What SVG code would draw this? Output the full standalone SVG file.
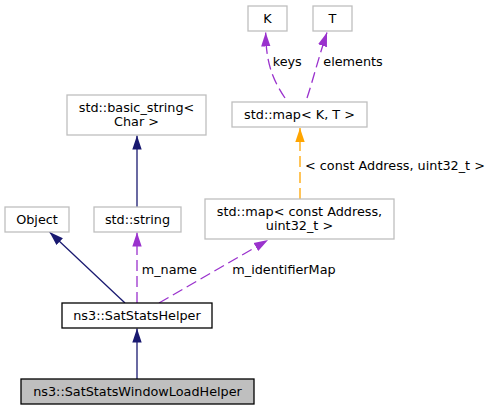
<svg xmlns="http://www.w3.org/2000/svg" width="492" height="411" viewBox="0 0 492 411">
<style>
text{font-family:"DejaVu Sans","Liberation Sans",sans-serif;font-size:12.8px;fill:#000}
.c{text-anchor:middle}
.box{fill:#fff;stroke:#bfbfbf;stroke-width:1.3}
.blk{fill:#fff;stroke:#000;stroke-width:1.3}
.cur{fill:#bfbfbf;stroke:#000;stroke-width:1.3}
.nv{stroke:#191970;stroke-width:1.3;fill:none;marker-end:url(#an)}
.pu{stroke:#9a32cd;stroke-width:1.3;fill:none;stroke-dasharray:11,5;marker-end:url(#ap)}
.or{stroke:#ffa500;stroke-width:1.3;fill:none;stroke-dasharray:11,5;marker-end:url(#ao)}
</style>
<defs>
<marker id="an" markerUnits="userSpaceOnUse" markerWidth="15" markerHeight="11" refX="14" refY="5.5" orient="auto"><path d="M0,0.8 L14,5.5 L0,10.2 z" fill="#191970"/></marker>
<marker id="ap" markerUnits="userSpaceOnUse" markerWidth="15" markerHeight="11" refX="14" refY="5.5" orient="auto"><path d="M0,0.8 L14,5.5 L0,10.2 z" fill="#9a32cd"/></marker>
<marker id="ao" markerUnits="userSpaceOnUse" markerWidth="15" markerHeight="11" refX="14" refY="5.5" orient="auto"><path d="M0,0.8 L14,5.5 L0,10.2 z" fill="#ffa500"/></marker>
</defs>
<rect width="492" height="411" fill="#fff"/>
<g id="connectors">
<path class="nv" d="M137,379 L137,328.5"/>
<path class="nv" d="M125,303 L49.5,232"/>
<path class="nv" d="M137,207 L137,135.5"/>
<path class="pu" d="M137,303 L137,232.5"/>
<path class="pu" d="M159,303 L268,240"/>
<path class="or" d="M300,199 L300,128"/>
<path class="pu" d="M285,98 C273,80 266,64 265.7,32.5"/>
<path class="pu" d="M307,98 C313,80 319,56 327,32.5"/>
<text x="141.7" y="274">m_name</text>
<text x="232.3" y="274">m_identifierMap</text>
<text x="272.7" y="66">keys</text>
<text x="323.3" y="66">elements</text>
<text x="305" y="170">&lt; const Address, uint32_t &gt;</text>
</g>
<g id="node-window"><rect class="cur" x="21" y="379" width="233" height="25"/><text class="c" x="137.5" y="396">ns3::SatStatsWindowLoadHelper</text></g>
<g id="node-helper"><rect class="blk" x="62" y="303" width="150" height="25"/><text class="c" x="137" y="320">ns3::SatStatsHelper</text></g>
<g id="node-object"><rect class="box" x="5" y="207" width="64" height="25"/><text class="c" x="37" y="224">Object</text></g>
<g id="node-string"><rect class="box" x="94" y="207" width="87" height="25"/><text class="c" x="137.5" y="224">std::string</text></g>
<g id="node-basic-string"><rect class="box" x="67" y="95" width="139" height="40"/><text class="c" x="136.5" y="111.5">std::basic_string&lt;</text><text class="c" x="136.5" y="125.5">Char &gt;</text></g>
<g id="node-map-addr"><rect class="box" x="205" y="199" width="189" height="40"/><text class="c" x="299.5" y="215.5">std::map&lt; const Address,</text><text class="c" x="299.5" y="229.5">uint32_t &gt;</text></g>
<g id="node-map-kt"><rect class="box" x="232" y="102" width="135" height="25"/><text class="c" x="299.5" y="119">std::map&lt; K, T &gt;</text></g>
<g id="node-k"><rect class="box" x="248" y="6" width="39" height="25"/><text class="c" x="267.5" y="23">K</text></g>
<g id="node-t"><rect class="box" x="313" y="6" width="39" height="25"/><text class="c" x="332.5" y="23">T</text></g>
</svg>
